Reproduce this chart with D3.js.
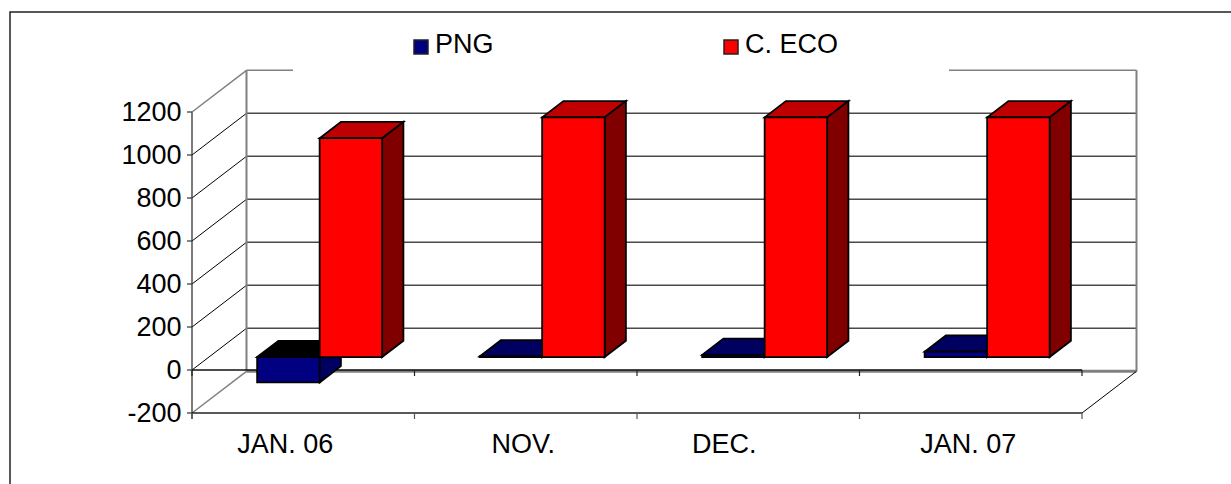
<!DOCTYPE html>
<html><head><meta charset="utf-8">
<script src="https://cdn.jsdelivr.net/npm/d3@7"></script>
<style>html,body{margin:0;padding:0;background:#fff;overflow:hidden}svg{display:block}text{font-family:"Liberation Sans",Arial,sans-serif;fill:#000}</style>
</head><body><svg id="c" width="1231" height="484"></svg>
<script>
const categories = ["JAN. 06","NOV.","DEC.","JAN. 07"];
const seriesNames = ["PNG","C. ECO"];
const png = [-118,3,10,25];
const eco = [1018,1115,1115,1115];
const yTicks = [-200,0,200,400,600,800,1000,1200];
const labelNudge = [-18,-2.5,-24,-2.5];

const svg = d3.select("#c");
const FS = 27;
svg.append("path").attr("d",d3.line()([[1231,12],[10,12],[10,484]])).attr("fill","none").attr("stroke","#222").attr("stroke-width",1.5);

const x = d3.scaleBand().domain(categories).range([192,1082]);
const y = d3.scaleLinear().domain([-200,1200]).range([413,112]);
const depthX = d3.scaleLinear().domain([0,1]).range([0,54.5]);
const depthY = d3.scaleLinear().domain([0,1]).range([0,-41.7]);
const P = (px,v,d)=>[px+depthX(d), y(v)+depthY(d)];
const line = d3.line();
const poly = (pts,fill,stroke="#000",sw=1.8)=>svg.append("path").attr("d",line(pts)+"Z").attr("fill",fill).attr("stroke",stroke).attr("stroke-width",sw).attr("stroke-linejoin","miter");
const seg = (a,b,col,sw)=>svg.append("line").attr("x1",a[0]).attr("y1",a[1]).attr("x2",b[0]).attr("y2",b[1]).attr("stroke",col).attr("stroke-width",sw);

const [L,R] = x.range();
const G="#808080";
yTicks.forEach(t=>{
  if(t===-200||t===1200) return;
  seg(P(L,t,0),P(L,t,1),"#000",1);
  seg(P(L,t,1),P(R,t,1),"#4a4a4a",1.4);
});
seg(P(L,1200,0),P(L,1200,1),G,1.5);
seg(P(L,1200,1),P(R,1200,1),G,1.6);
seg(P(L,-200,0),P(L,-200,1),G,1.5);
seg(P(L,1200,1),P(L,-200,1),G,2);
seg(P(R,1200,1),P(R,-200,1),G,2);
seg(P(L,-200,1),P(R,-200,1),G,3);
seg(P(R,-200,0),P(R,-200,1),"#000",1);

seg([L,y(1200)],[L,y(-200)+6],"#333",1.3);
yTicks.forEach(t=>{
  seg([L-5,y(t)],[L,y(t)],"#333",1.2);
  svg.append("text").attr("x",181.5).attr("y",y(t)+9.2).attr("text-anchor","end").attr("font-size",FS).text(t);
});
seg([L,y(0)],[R,y(0)],"#111",1.4);
seg([L,y(-200)],[R,y(-200)],"#222",1.4);
categories.concat(["end"]).forEach((c,i)=>{
  const px = L + i*x.bandwidth();
  seg([px,y(0)],[px,y(0)+6],"#222",1.2);
  seg([px,y(-200)],[px,y(-200)+6],"#555",1.2);
});
categories.forEach((c,i)=>{
  svg.append("text").attr("x",x(c)+x.bandwidth()/2+labelNudge[i]).attr("y",452.7).attr("text-anchor","middle").attr("font-size",FS).text(c);
});

const inner = d3.scaleBand().domain(seriesNames).range([0,x.bandwidth()]).paddingInner(0).paddingOuter(0.78);
const bw = inner.bandwidth();
const d0 = 0.31, d1 = 0.70;
function bar(cat,name,v,front,top,side){
  const a = x(cat)+inner(name)-0.5, b = a+bw;
  const hi = Math.max(v,0), lo = Math.min(v,0);
  poly([P(a,hi,d0),P(a,hi,d1),P(b,hi,d1),P(b,hi,d0)],top);
  poly([P(b,lo,d0),P(b,lo,d1),P(b,hi,d1),P(b,hi,d0)],side);
  poly([P(a,lo,d0),P(b,lo,d0),P(b,hi,d0),P(a,hi,d0)],front);
}
categories.forEach((c,i)=>{
  bar(c,"PNG",png[i],"#000080",png[i]<0?"#000":"#000060","#000060");
  bar(c,"C. ECO",eco[i],"#ff0000","#c00000","#800000");
});

svg.append("rect").attr("x",293).attr("y",30).attr("width",656).attr("height",45).attr("fill","#fff");
[[413,"PNG","#000080",435],[723,"C. ECO","#ff0000",745]].forEach(([lx,n,col,tx])=>{
  svg.append("rect").attr("x",lx+1).attr("y",40).attr("width",14).attr("height",14).attr("fill",col).attr("stroke","#222").attr("stroke-width",1.5);
  svg.append("text").attr("x",tx).attr("y",52.7).attr("font-size",FS).text(n);
});
</script></body></html>
